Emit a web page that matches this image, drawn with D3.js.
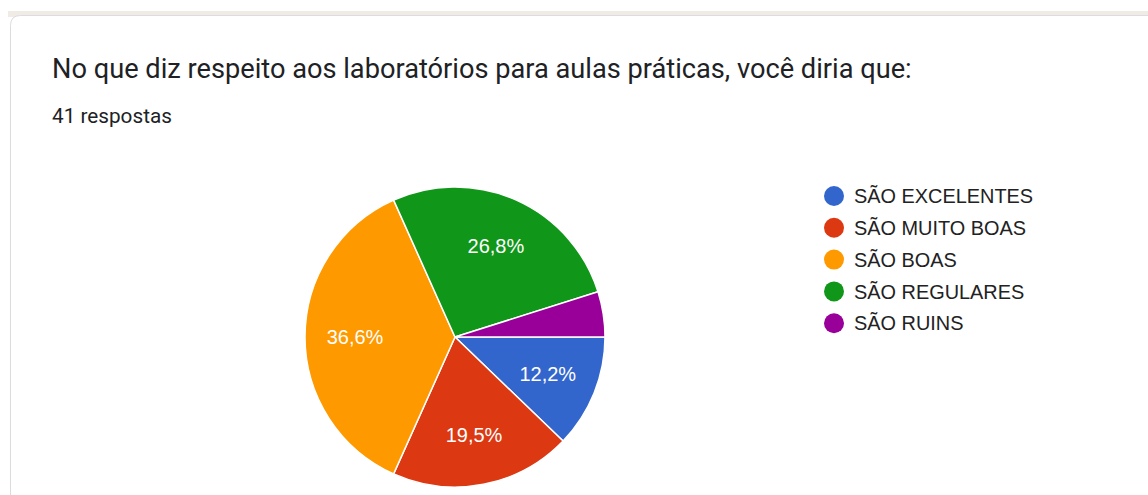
<!DOCTYPE html>
<html>
<head>
<meta charset="utf-8">
<script src="https://cdn.jsdelivr.net/npm/d3@7"></script>
<style>
  html, body { margin: 0; padding: 0; background: #fff; }
  svg { display: block; }
</style>
</head>
<body>
<svg id="chart" width="1148" height="495"></svg>
<script>
(function() {
    const categories = ["SÃO EXCELENTES", "SÃO MUITO BOAS", "SÃO BOAS", "SÃO REGULARES", "SÃO RUINS"];
    const counts = [5, 8, 15, 11, 2];
    const colors = ["#3366cc", "#dc3912", "#ff9900", "#109618", "#990099"];
    const title = "No que diz respeito aos laboratórios para aulas práticas, você diria que:";
    const subtitle = "41 respostas";

    const data = categories.map((c, i) => ({ name: c, value: counts[i], color: colors[i] }));
    const total = d3.sum(counts);

    const svg = d3.select("#chart");
    const W = 1148, H = 495;

    // page band + card
    svg.append("rect").attr("x", 8).attr("y", 11).attr("width", W).attr("height", 6).attr("fill", "#f1ebe5");
    const r0 = 10;
    svg.append("path")
      .attr("d", `M10.5,${H + 5} V${15.5 + r0} Q10.5,15.5 ${10.5 + r0},15.5 H${W + 5}`)
      .attr("fill", "#fff")
      .attr("stroke", "#dadce0")
      .attr("stroke-width", 1);

    // fit text to a target width
    function fit(sel, target) {
      const len = sel.node().getComputedTextLength();
      const fs = parseFloat(sel.attr("font-size"));
      sel.attr("font-size", fs * target / len);
    }

    const t = svg.append("text")
      .attr("x", 52).attr("y", 78)
      .attr("font-family", "Roboto, 'Open Sans', sans-serif")
      .attr("font-size", 22)
      .attr("fill", "#202124")
      .text(title);
    fit(t, 860);

    const s = svg.append("text")
      .attr("x", 52).attr("y", 123)
      .attr("font-family", "Roboto, sans-serif")
      .attr("font-size", 17)
      .attr("fill", "#202124")
      .text(subtitle);
    fit(s, 120);

    // pie
    const cx = 455, cy = 337, radius = 150;
    const pie = d3.pie()
      .value(d => d.value)
      .sort(null)
      .startAngle(Math.PI / 2)
      .endAngle(Math.PI / 2 + 2 * Math.PI);
    const arc = d3.arc().innerRadius(0).outerRadius(radius);
    const labelArc = d3.arc().innerRadius(radius * 2 / 3).outerRadius(radius * 2 / 3);

    const g = svg.append("g").attr("transform", `translate(${cx},${cy})`);
    const arcs = pie(data);

    g.selectAll("path.slice")
      .data(arcs)
      .enter().append("path")
      .attr("class", "slice")
      .attr("d", arc)
      .attr("fill", d => d.data.color)
      .attr("stroke", "#fff")
      .attr("stroke-width", 1.5);

    g.selectAll("text.pct")
      .data(arcs.filter(d => d.data.value / total > 0.08))
      .enter().append("text")
      .attr("class", "pct")
      .attr("transform", d => `translate(${labelArc.centroid(d)})`)
      .attr("dy", "0.35em")
      .attr("text-anchor", "middle")
      .attr("font-family", "Arial, 'Liberation Sans', sans-serif")
      .attr("font-size", 20)
      .attr("fill", "#fff")
      .text(d => (d.data.value / total * 100).toFixed(1).replace(".", ",") + "%");

    // legend
    const legend = svg.append("g").attr("transform", "translate(834,196)");
    const item = legend.selectAll("g")
      .data(data)
      .enter().append("g")
      .attr("transform", (d, i) => `translate(0,${i * 31.8})`);
    item.append("circle").attr("r", 10).attr("fill", d => d.color);
    item.append("text")
      .attr("x", 20).attr("dy", "0.36em")
      .attr("font-family", "Arial, 'Liberation Sans', sans-serif")
      .attr("font-size", 19.9)
      .attr("fill", "#222")
      .text(d => d.name);
})();
</script>
</body>
</html>
